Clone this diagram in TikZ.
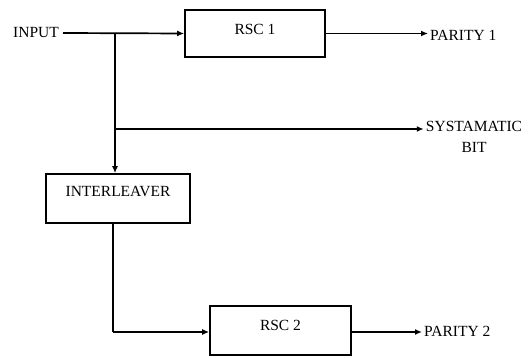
\documentclass[tikz,border=0pt]{standalone}
\usepackage{fontspec}
\setmainfont{Liberation Serif}
\usetikzlibrary{arrows.meta}
\begin{document}
\begin{tikzpicture}[x=1pt,y=-1pt,
  blk/.style={draw,line width=1.7pt,rectangle,inner sep=0pt},
  lbl/.style={font=\fontsize{15.5}{21}\selectfont,inner sep=2pt},
  conn/.style={line width=1.7pt,-{Latex[length=7pt,width=6pt]}},
  plain/.style={line width=1.7pt}]
\useasboundingbox (0,0) rectangle (530,358);
% boxes
\node[blk,minimum width=140pt,minimum height=47pt] (rsc1) at (255,33.5) {};
\node[lbl] (rsc1t) at (255,29) {RSC 1};
\node[blk,minimum width=144pt,minimum height=49pt] (inter) at (118,198.5) {};
\node[lbl] (intert) at (118,192) {INTERLEAVER};
\node[blk,minimum width=141pt,minimum height=49pt] (rsc2) at (280.5,330.5) {};
\node[lbl] (rsc2t) at (280.5,325) {RSC 2};
% labels
\node[lbl,anchor=east,inner xsep=4pt] (input) at (63,33) {INPUT};
\node[lbl,anchor=west] (p1) at (428,35) {PARITY 1};
\node[lbl,align=center,anchor=north] (sys) at (474,119) {SYSTAMATIC\\BIT};
\node[lbl,anchor=west] (p2) at (422,331) {PARITY 2};
% coordinates
\coordinate (split) at (115,33.5);
\coordinate (sysj) at (115,129);
\coordinate (bend) at (113,332);
% connectors
\draw[conn] (input.east) -- (rsc1.west);
\draw[conn] (split) -- (split |- inter.north);
\draw[conn] (sysj) -- (sys.west |- sysj);
\draw[conn] (rsc1.east) -- (p1.west |- rsc1.east);
\draw[plain] (inter.south -| bend) -- (bend);
\draw[conn] (bend) -- (rsc2.west |- bend);
\draw[conn] (rsc2.east |- bend) -- (p2.west |- bend);
\end{tikzpicture}
\end{document}
